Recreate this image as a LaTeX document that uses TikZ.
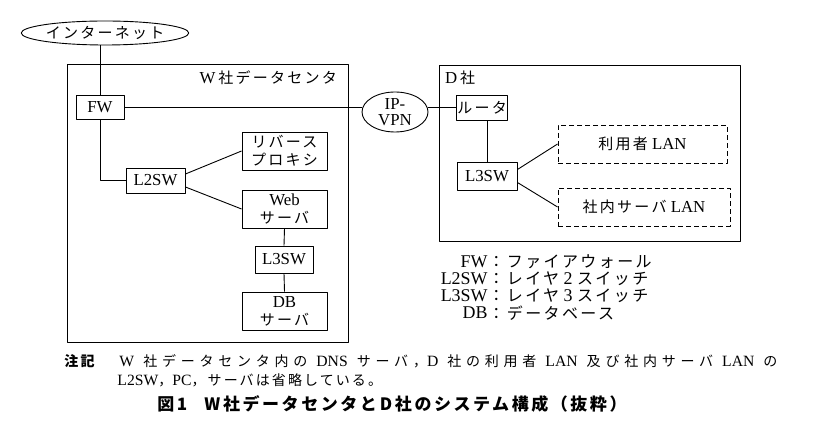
\documentclass[tikz,border=0pt]{standalone}
\usepackage{fontspec}
\setmainfont{Liberation Serif}[Scale=1.12]
\newfontfamily\jp{Noto Sans CJK JP}[LetterSpace=15]
\newfontfamily\jpwide{Noto Sans CJK JP}[LetterSpace=34]
\newcommand\ja[1]{{\jp #1}}
\newcommand\jaw[1]{{\jpwide #1}}
\usetikzlibrary{shapes.geometric}

\begin{document}
\begin{tikzpicture}[x=1pt, y=-1pt, font=\fontsize{15}{18}\selectfont, line join=round, line width=0.9pt,
	box/.style={draw, inner sep=1pt, align=center},
	lanbox/.style={box, dash pattern=on 5pt off 3pt},
	cloud/.style={draw, ellipse, inner sep=0pt, align=center},
	legend/.style={inner sep=0pt, font=\fontsize{16}{18}\selectfont},
	note/.style={anchor=west, inner sep=0pt, font=\fontsize{14}{17}\selectfont}]
	\useasboundingbox (0,0) rectangle (817,443);
	% sites
	\draw (67,64) rectangle (348,342);
	\draw (439,65) rectangle (740,241);
	\node[anchor=east] (wsite) at (341,78) {W\,\ja{社データセンタ}};
	\node[anchor=west] (dsite) at (441,78) {D\,\ja{社}};
	% clouds
	\node[cloud, minimum width=155pt, minimum height=24pt] (inet) at (105,33) {\ja{インターネット}};
	\node[cloud, minimum width=66pt, minimum height=40pt, font=\fontsize{15}{16}\selectfont] (vpn) at (395,112) {IP-\\VPN};
	% W data center
	\node[box, minimum width=48pt, minimum height=24pt] (fw) at (100,107.5) {FW};
	\node[box, minimum width=59pt, minimum height=25pt] (l2sw) at (155.5,180.5) {L2SW};
	\node[box, minimum width=85pt, minimum height=38pt] (proxy) at (284.5,151) {\ja{リバース}\\\ja{プロキシ}};
	\node[box, minimum width=85pt, minimum height=38pt] (web) at (284.5,209) {Web\\\ja{サーバ}};
	\node[box, minimum width=58pt, minimum height=27pt] (wl3sw) at (284,259.5) {L3SW};
	\node[box, minimum width=85pt, minimum height=38pt] (db) at (284.5,311) {DB\\\ja{サーバ}};
	% D company
	\node[box, minimum width=50pt, minimum height=25pt] (router) at (482,107.5) {\ja{ルータ}};
	\node[box, minimum width=60pt, minimum height=28pt] (dl3sw) at (487,176) {L3SW};
	\node[lanbox, minimum width=169pt, minimum height=38pt] (ulan) at (642.5,144) {\ja{利用者} LAN};
	\node[lanbox, minimum width=172pt, minimum height=38pt] (slan) at (644,207) {\ja{社内サーバ} LAN};
	% links
	\draw (fw.north) -- (fw.north |- inet.south);
	\draw (fw.east) -- (fw.east -| vpn.west);
	\draw (router.west) -- (router.west -| vpn.east);
	\draw (fw.south) |- (l2sw.west);
	\draw ([yshift=6.5pt]l2sw.east) -- (proxy.west);
	\draw ([yshift=-6.5pt]l2sw.east) -- (web.west);
	\draw (web.south) -- (wl3sw.north);
	\draw (wl3sw.south) -- (db.north);
	\draw (dl3sw.north) -- (dl3sw.north |- router.south);
	\draw ([yshift=6.5pt]dl3sw.east) -- (ulan.west);
	\draw ([yshift=-6.5pt]dl3sw.east) -- (slan.west);
	% legend
	\foreach \k/\v [count=\i] in {FW/\ja{：ファイアウォール}, L2SW/\ja{：レイヤ} 2 \ja{スイッチ}, L3SW/\ja{：レイヤ} 3 \ja{スイッチ}, DB/\ja{：データベース}}{
		\node[legend, anchor=east] (key\i) at (488,{245+17*\i}) {\k};
		\node[legend, anchor=west] (val\i) at (key\i.east) {\v};
	}
	% note and caption
	\node[note] (notehead) at (64,361) {\jp\bfseries 注記};
	\node[note] (note1) at (119,361) {\makebox[658pt][s]{W \jaw{社データセンタ内の} DNS \jaw{サーバ，}D \jaw{社の利用者} LAN \jaw{及び社内サーバ} LAN \jaw{の}}};
	\node[note] (note2) at (117,380) {L2SW\ja{，}PC\ja{，サーバは省略している。}};
	\node[note, font=\fontsize{17}{20}\selectfont] (caption) at (157,404) {\jp\bfseries 図1\hspace{1em}W\,社データセンタと\,D\,社のシステム構成（抜粋）};
\end{tikzpicture}
\end{document}
